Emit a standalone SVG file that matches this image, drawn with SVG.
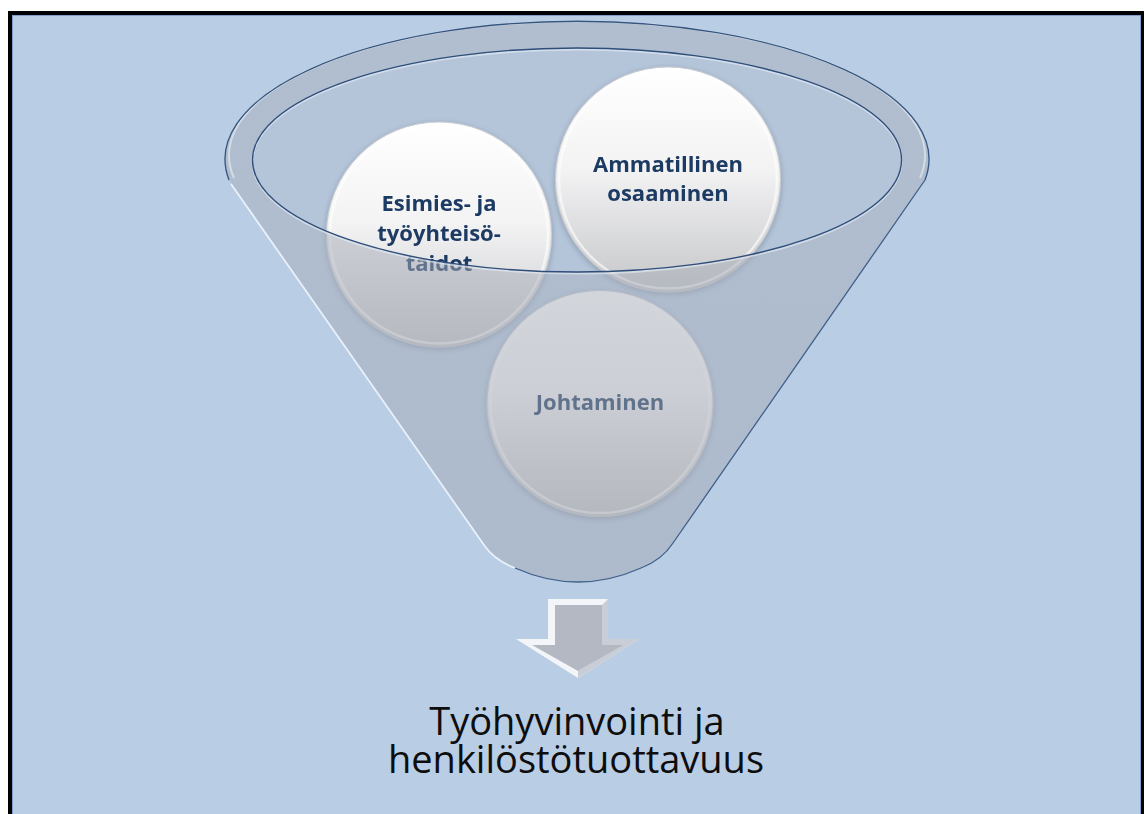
<svg xmlns="http://www.w3.org/2000/svg" width="1144" height="814" viewBox="0 0 1144 814">
  <style>
    .lbl { font-family: "Open Sans", "Noto Sans", "Liberation Sans", sans-serif; font-weight: 700; font-size: 22px; fill: #1f3a62; text-anchor: middle; }
    .result { font-family: "Open Sans", "Noto Sans", "Liberation Sans", sans-serif; font-size: 38px; fill: #0d0d0d; text-anchor: middle; }
    .ball { fill: url(#ballGrad); stroke: #c9cbd0; stroke-width: 1; }
    .ballRim { fill: none; stroke: #ffffff; stroke-opacity: 0.6; stroke-width: 2.5; }
  </style>
  <defs>
    <linearGradient id="ballGrad" x1="0" y1="0" x2="0" y2="1">
      <stop offset="0" stop-color="#ffffff"/>
      <stop offset="0.45" stop-color="#f3f3f4"/>
      <stop offset="1" stop-color="#c5c6c9"/>
    </linearGradient>
    <linearGradient id="glassGrad" x1="0" y1="0" x2="0" y2="1">
      <stop offset="0" stop-color="#a9afba"/>
      <stop offset="1" stop-color="#a2a8b3"/>
    </linearGradient>
    <filter id="soft" x="-20%" y="-20%" width="140%" height="140%">
      <feGaussianBlur in="SourceAlpha" stdDeviation="3"/>
      <feOffset dy="2" result="b"/>
      <feComponentTransfer><feFuncA type="linear" slope="0.22"/></feComponentTransfer>
      <feMerge><feMergeNode/><feMergeNode in="SourceGraphic"/></feMerge>
    </filter>
  </defs>

  <!-- page and slide frame -->
  <rect x="0" y="0" width="1144" height="814" fill="#ffffff"/>
  <rect x="8" y="11" width="1136" height="803" fill="#000000"/>
  <rect x="12" y="15" width="1129" height="799" fill="#7f9fcc"/>
  <rect x="13" y="16" width="1127" height="798" fill="#b9cde5"/>

  <!-- funnel interior seen through the opening -->
  <g id="funnel-back">
    <ellipse cx="577" cy="160" rx="324.5" ry="112" fill="#a4aab5" fill-opacity="0.22"/>
  </g>

  <!-- items poured into the funnel -->
  <g id="node-esimies" filter="url(#soft)">
    <circle class="ball" cx="439" cy="234.5" r="112.5"/>
    <circle class="ballRim" cx="439" cy="234.5" r="109"/>
    <text class="lbl" x="439" y="211">Esimies- ja</text>
    <text class="lbl" x="439" y="241">työyhteisö-</text>
    <text class="lbl" x="439" y="271">taidot</text>
  </g>
  <g id="node-ammatillinen" filter="url(#soft)">
    <circle class="ball" cx="668" cy="179.5" r="112.5"/>
    <circle class="ballRim" cx="668" cy="179.5" r="109"/>
    <text class="lbl" x="668" y="172">Ammatillinen</text>
    <text class="lbl" x="668" y="201">osaaminen</text>
  </g>
  <g id="node-johtaminen" filter="url(#soft)">
    <circle class="ball" cx="600" cy="403.5" r="113"/>
    <circle class="ballRim" cx="600" cy="403.5" r="109.5"/>
    <text class="lbl" x="600" y="410">Johtaminen</text>
  </g>

  <!-- funnel front glass: rim and cone, opening cut out -->
  <g id="funnel">
    <path fill="url(#glassGrad)" fill-opacity="0.5" fill-rule="evenodd"
      d="M229,180 A352,138 0 1 1 925,180 L673,543 Q662,560 641,568 Q578,596 515,568 Q494,560 483,543 Z
         M252.5,160 A324.5,112 0 1 0 901.5,160 A324.5,112 0 1 0 252.5,160 Z"/>
    <!-- rim edges -->
    <path d="M234,178 A348,134 0 1 1 920,178" fill="none" stroke="#ffffff" stroke-opacity="0.45" stroke-width="2"/>
    <path d="M229,180 A352,138 0 1 1 925,180" fill="none" stroke="#34557f" stroke-width="1.3"/>
    <!-- cone edges -->
    <path d="M231,184 L484,545 Q494,560 515,568" fill="none" stroke="#e8f0fa" stroke-width="1.8"/>
    <path d="M515,568 Q578,596 641,568 Q662,560 673,543 L925,180" fill="none" stroke="#3f5f8a" stroke-width="1.3"/>
    <!-- opening edge -->
    <ellipse cx="577" cy="161.5" rx="324.5" ry="112" fill="none" stroke="#e6edf6" stroke-opacity="0.6" stroke-width="2"/>
    <ellipse cx="577" cy="160" rx="324.5" ry="112" fill="none" stroke="#2f4f7a" stroke-width="1.4"/>
  </g>

  <!-- outflow arrow -->
  <g id="connectors">
    <polygon points="548,599 608,599 608,639 639,639 578,678 516,639 548,639" fill="#f3f5f9"/>
    <polygon points="608,599 608,639 639,639 578,678 578,671 624,645 602,645 602,605" fill="#c9cdd6"/>
    <polygon points="555,605 602,605 602,645 624,645 578,671 532,645 555,645" fill="#b3b8c3"/>
  </g>

  <!-- outcome -->
  <g id="node-result">
    <text class="result" x="577" y="735">Työhyvinvointi ja</text>
    <text class="result" x="576" y="773">henkilöstötuottavuus</text>
  </g>
</svg>
